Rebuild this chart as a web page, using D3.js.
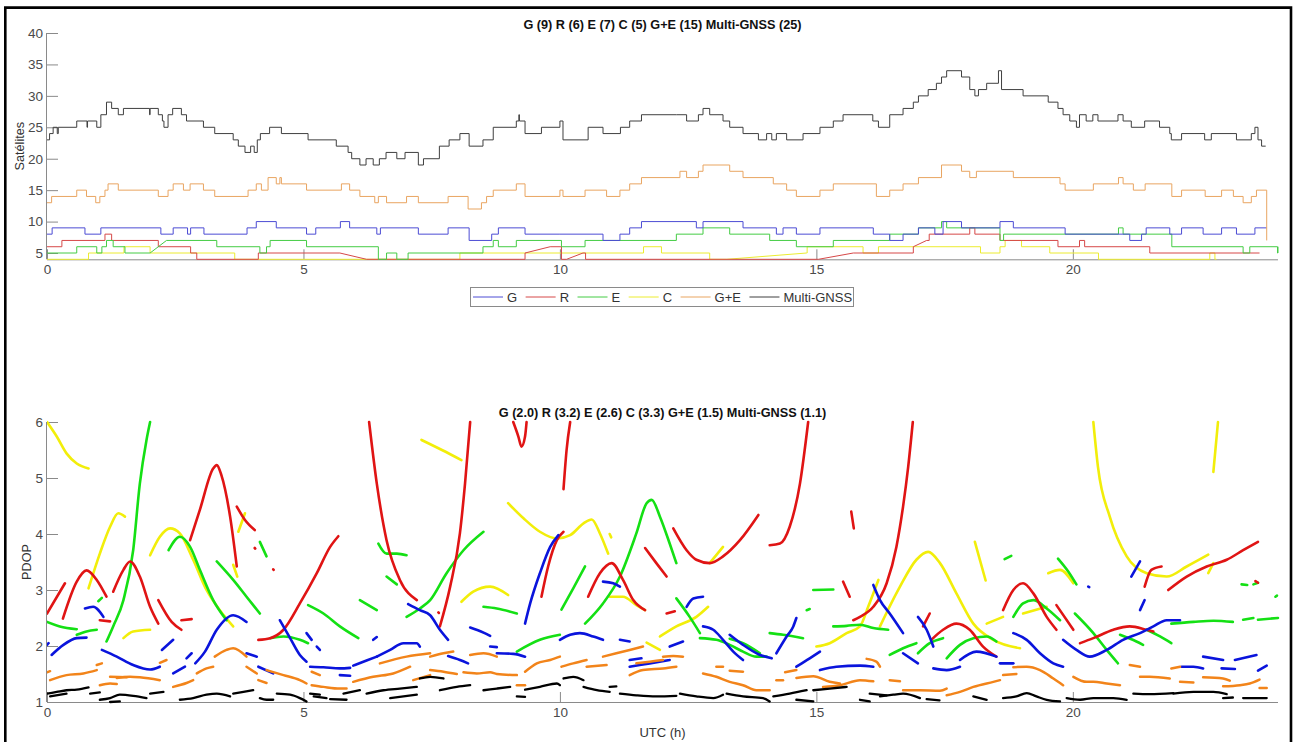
<!DOCTYPE html>
<html>
<head>
<meta charset="utf-8">
<script src="https://cdn.jsdelivr.net/npm/d3@7"></script>
<style>
  html, body { margin: 0; padding: 0; background: #fff; }
  svg { display: block; font-family: "Liberation Sans", Arial, sans-serif; }
</style>
</head>
<body>
<svg id="fig" width="1293" height="742"></svg>
<script>
// ---------- data ----------
const hourTicks = [0, 5, 10, 15, 20];
const satTicks = [5, 10, 15, 20, 25, 30, 35, 40];
const pdopTicks = [1, 2, 3, 4, 5, 6];
const systems = ["G", "R", "E", "C", "G+E", "Multi-GNSS"];
const meanSats = [9, 6, 7, 5, 15, 25];
const meanPdop = ["2.0", "3.2", "2.6", "3.3", "1.5", "1.1"];

// Visible satellites: change points [hour, count]; a third element 1 marks a linear ramp
const satG = [[0,8],[0.1,9],[0.74,8],[1.05,9],[2.22,8],[2.46,9],[2.74,8],[2.80,9],[3.06,8],[3.90,9],[4.08,10],[4.47,9],[5.06,8],[5.24,9],[5.72,10],[5.90,9],[6.43,8],[6.50,9],[7.24,8],[7.82,9],[8.23,7],[8.67,8],[8.80,9],[9.32,8],[10.0,8],[10.84,7],[11.17,8],[11.36,9],[11.59,10],[12.66,9],[12.79,10],[13.57,9],[14.22,8],[14.35,9],[14.61,8],[15.07,9],[16.11,8],[16.43,7],[16.69,8],[16.99,9],[17.31,8],[17.47,10],[17.83,9],[18.58,10],[18.84,9],[19.85,8],[21.11,7],[21.34,8],[21.43,9],[21.89,8],[22.12,9],[22.54,8],[22.90,9],[23.19,8],[23.55,9],[23.78,9]];
const satR = [[0,6],[0.29,7],[1.13,8],[1.26,7],[2.17,6],[2.80,5],[2.92,4],[4.12,5],[5.71,5],[6.23,4,1],[9.22,4],[9.32,5],[9.81,6,1],[10.02,6],[10.03,4],[10.13,4],[10.45,5,1],[10.50,4],[15.04,4],[15.72,5,1],[16.89,5],[16.89,6],[17.15,7,1],[17.20,8],[17.99,9],[18.09,8],[18.58,7],[19.71,6],[20.13,7],[20.23,6],[21.50,5],[23.64,5]];
const satE = [[0,5],[0.58,6],[0.97,5],[1.07,6],[1.16,7],[1.29,6],[1.52,5],[2.01,5],[2.33,7,1],[3.31,6],[4.15,5],[4.28,6],[4.35,7],[5.06,6],[6.46,4],[6.62,5],[6.82,4],[7.04,5],[8.50,6],[8.70,7],[8.80,6],[9.15,7],[10.03,6],[10.49,7],[12.27,8],[12.79,9],[13.31,8],[14.09,7],[14.61,6],[15.33,7],[16.43,8],[16.99,9],[17.44,10],[17.54,9],[18.58,7],[18.65,8],[20.89,9],[20.98,8],[21.93,6],[23.32,5],[23.45,6],[23.98,6],[23.99,5],[24.0,6]];
const satC = [[0,4],[0.81,5],[1.50,6],[2.01,5],[3.66,4],[8.05,5],[11.63,6],[11.98,5],[12.92,4],[13.25,4],[14.81,5,1],[14.82,6],[15.91,5],[16.21,6],[18.20,5],[18.58,6],[18.68,7],[19.0,6],[19.55,5],[20.5,4],[22.67,5],[22.77,4],[22.80,4]];
const satGE = [[0,13],[0.09,14],[0.58,15],[0.77,14],[0.95,13],[1.03,14],[1.13,15],[1.19,16],[1.39,15],[2.17,14],[2.36,15],[2.46,16],[2.66,15],[2.79,16],[3.05,15],[3.27,14],[3.92,15],[4.08,16],[4.18,15],[4.31,17],[4.47,16],[4.54,17],[4.57,16],[5.06,15],[5.74,16],[5.90,15],[6.10,14],[6.39,13],[6.46,14],[6.62,13],[7.01,14],[7.24,13],[7.82,14],[8.21,12],[8.47,13],[8.57,14],[8.70,15],[9.15,16],[9.32,14],[10.0,15],[10.06,14],[10.49,15],[10.91,14],[11.17,15],[11.36,16],[11.59,17],[12.34,18],[12.47,17],[12.70,18],[12.79,19],[13.31,18],[13.57,17],[14.16,16],[14.42,15],[14.61,14],[15.07,15],[15.33,16],[16.17,14],[16.43,15],[16.69,16],[16.99,17],[17.44,19],[17.83,18],[17.99,17],[18.12,18],[18.84,17],[19.75,16],[19.85,15],[20.40,16],[20.89,17],[20.98,16],[21.18,15],[21.41,16],[21.93,14],[22.12,15],[22.58,14],[22.90,15],[23.13,14],[23.32,13],[23.48,14],[23.58,15],[23.78,15],[23.78,7]];
const satMulti = [[0,23],[0.05,24],[0.12,25],[0.2,24],[0.22,25],[0.58,26],[0.78,25],[0.79,26],[0.97,25],[1.05,27],[1.16,29],[1.26,28],[1.39,27],[1.49,28],[2.0,27],[2.01,28],[2.17,27],[2.25,26],[2.28,25],[2.36,27],[2.45,28],[2.62,27],[2.72,26],[3.05,25],[3.27,24],[3.63,23],[3.73,22],[3.86,21],[3.97,22],[4.04,21],[4.10,23],[4.16,24],[4.34,25],[4.57,24],[5.09,23],[5.64,22],[5.87,21],[5.94,20],[6.10,19],[6.22,20],[6.36,19],[6.48,20],[6.61,21],[6.82,20],[6.98,21],[7.24,19],[7.34,20],[7.65,22],[7.84,23],[8.05,24],[8.23,22],[8.50,23],[8.70,25],[9.15,26],[9.2,27],[9.21,26],[9.32,24],[9.64,25],[10.0,26],[10.06,23],[10.55,25],[10.84,24],[11.18,25],[11.36,26],[11.59,27],[12.27,27],[12.47,26],[12.70,27],[12.79,28],[12.92,27],[13.18,26],[13.31,25],[13.57,24],[13.87,23],[14.03,24],[14.13,23],[14.22,24],[14.42,23],[14.74,24],[15.07,25],[15.33,26],[15.52,27],[16.10,26],[16.21,25],[16.43,27],[16.69,28],[16.89,29],[16.99,30],[17.18,31],[17.34,32],[17.44,33],[17.54,34],[17.83,33],[17.99,31],[18.09,30],[18.16,31],[18.32,32],[18.55,34],[18.61,31],[19.03,30],[19.52,29],[19.71,28],[19.81,27],[19.94,26],[20.07,25],[20.13,27],[20.26,26],[20.39,27],[20.49,26],[20.88,27],[20.98,26],[21.14,25],[21.40,26],[21.69,25],[21.89,24],[21.92,23],[22.12,24],[22.57,23],[22.70,24],[23.19,23],[23.48,24],[23.55,25],[23.61,23],[23.68,22],[23.76,22]];

// PDOP arcs per system: each arc is a list of [hour, PDOP]
const pdopG = [
  [[0,2.02],[0.03,2.05]],
  [[0.09,1.84],[0.32,2.02],[0.58,2.14],[0.77,2.15]],
  [[0.74,2.67],[0.90,2.70],[1.10,2.52]],
  [[1.07,1.93],[1.36,1.81],[1.68,1.66],[2.01,1.58],[2.20,1.63]],
  [[2.24,1.93],[2.46,2.11]],
  [[2.46,1.51],[2.69,1.63]],
  [[2.72,1.78],[2.82,1.87]],
  [[2.89,1.69],[3.08,1.90],[3.31,2.29],[3.63,2.55],[3.89,2.43]],
  [[3.89,1.87],[4.09,1.81]],
  [[4.12,1.63],[4.41,1.51]],
  [[4.54,2.46],[4.74,2.14],[4.93,1.84],[5.06,1.72]],
  [[5.06,2.23],[5.16,2.11]],
  [[5.26,1.99],[5.32,1.93]],
  [[5.13,1.63],[5.39,1.62],[5.71,1.60],[5.91,1.61]],
  [[5.71,1.48],[5.91,1.47]],
  [[5.97,1.65],[6.23,1.74],[6.43,1.81]],
  [[6.36,2.11],[6.43,2.16]],
  [[6.43,1.81],[6.69,1.93],[6.95,2.05],[7.21,2.05],[7.27,1.99]],
  [[7.04,2.75],[7.27,2.64],[7.47,2.55],[7.66,2.29],[7.82,2.11]],
  [[7.82,1.82],[8.05,1.75],[8.21,1.69]],
  [[8.25,2.33],[8.51,2.24],[8.64,2.18]],
  [[8.64,1.99],[8.77,1.98]],
  [[8.77,1.87],[9.09,1.86],[9.32,1.81]],
  [[9.32,2.40],[9.42,2.76],[9.61,3.30],[9.81,3.77],[9.97,3.98]],
  [[10.0,2.11],[10.2,2.20],[10.39,2.23],[10.65,2.17],[10.84,2.11]],
  [[10.84,3.15],[11.04,3.12],[11.17,3.06]],
  [[11.17,2.11],[11.36,2.08]],
  [[11.36,1.75],[11.59,1.78]],
  [[11.36,1.63],[11.75,1.69],[12.14,1.75]],
  [[12.14,1.99],[12.40,2.08]],
  [[12.47,2.70],[12.60,2.85],[12.79,2.88]],
  [[12.79,2.35],[12.99,2.29],[13.18,2.11],[13.38,1.90],[13.57,1.75]],
  [[13.31,2.20],[13.57,2.02],[13.90,1.84],[14.13,1.78]],
  [[14.22,1.87],[14.42,2.17],[14.55,2.35],[14.61,2.50]],
  [[14.61,1.63],[14.87,1.78],[15.07,1.90]],
  [[15.07,1.57],[15.39,1.63],[15.85,1.65],[16.11,1.63]],
  [[16.11,3.09],[16.24,2.82],[16.43,2.58],[16.69,2.23]],
  [[16.69,1.87],[16.98,1.69]],
  [[16.98,2.52],[17.15,2.29],[17.28,1.99]],
  [[17.28,1.60],[17.54,1.57],[17.80,1.63]],
  [[17.80,1.75],[18.12,1.90],[18.51,1.81]],
  [[18.58,1.69],[18.84,1.69]],
  [[18.84,2.23],[19.10,2.11],[19.36,1.87],[19.62,1.69],[19.81,1.63]],
  [[19.81,2.11],[20.07,1.93],[20.33,1.81],[20.66,1.93],[20.98,2.11],[21.31,2.23],[21.57,2.35],[21.83,2.46],[22.09,2.46]],
  [[20.30,3.06],[20.32,3.05]],
  [[21.14,3.24],[21.31,3.51]],
  [[21.31,2.64],[21.40,2.82]],
  [[22.12,1.63],[22.35,1.63],[22.54,1.60]],
  [[22.54,1.81],[22.93,1.75]],
  [[22.90,1.60],[23.16,1.59]],
  [[23.16,1.75],[23.58,1.84]],
  [[23.61,1.56],[23.78,1.65]]
];
const pdopR = [
  [[0,2.58],[0.35,3.12]],
  [[0.31,2.49],[0.58,3.15],[0.77,3.35],[0.97,3.18],[1.16,2.88]],
  [[1.03,2.46],[1.23,2.44]],
  [[1.29,2.97],[1.49,3.36],[1.62,3.51],[1.81,3.24],[2.01,2.70],[2.17,2.40]],
  [[2.17,2.82],[2.43,2.43],[2.62,2.29]],
  [[2.62,2.46],[2.82,2.48]],
  [[2.79,3.89],[2.98,4.43],[3.24,5.17],[3.31,5.23],[3.40,5.05],[3.57,4.31],[3.70,3.42]],
  [[3.70,4.49],[3.86,4.25],[4.05,4.07]],
  [[4.12,2.11],[4.35,2.14],[4.61,2.29],[4.93,2.76],[5.26,3.30],[5.52,3.77],[5.68,3.96]],
  [[4.05,3.75],[4.06,3.74]],
  [[4.41,3.37],[4.42,3.36]],
  [[6.28,6],[6.43,4.90],[6.62,3.89],[6.88,3.18],[7.21,2.82]],
  [[7.63,2.6],[7.64,2.59]],
  [[7.66,2.35],[7.86,3.06],[8.05,4.01],[8.15,4.90],[8.25,6]],
  [[9.09,6],[9.19,5.74],[9.25,5.56],[9.32,5.74],[9.35,6]],
  [[9.64,2.88],[9.77,3.42],[9.94,3.89],[10.07,4.04]],
  [[10.07,4.8],[10.13,5.5],[10.2,6]],
  [[10.55,2.88],[10.78,3.30],[11.01,3.48],[11.23,3.18],[11.43,2.82],[11.66,2.64]],
  [[11.66,3.75],[11.88,3.48],[12.08,3.24]],
  [[12.08,2.58],[12.24,2.62]],
  [[12.21,4.10],[12.47,3.71],[12.66,3.54],[12.92,3.48],[13.18,3.60],[13.51,3.89],[13.87,4.34]],
  [[14.09,3.80],[14.29,3.83],[14.48,4.13],[14.68,4.90],[14.84,6]],
  [[15.52,3.15],[15.65,2.88]],
  [[15.68,4.40],[15.73,4.10]],
  [[15.72,2.46],[15.85,2.52],[16.11,2.70],[16.37,3.12],[16.56,3.77],[16.69,4.49],[16.79,5.20],[16.88,6]],
  [[17.08,2.35],[17.21,2.58]],
  [[17.24,2.11],[17.47,2.29],[17.73,2.40],[17.99,2.29],[18.25,1.99],[18.51,1.81]],
  [[18.64,2.64],[18.84,3.0],[19.03,3.12],[19.23,2.94],[19.49,2.52],[19.68,2.29]],
  [[19.68,2.73],[20.01,2.29]],
  [[20.14,2.05],[20.40,2.14],[20.79,2.29],[21.11,2.35],[21.44,2.29],[21.57,2.26]],
  [[21.40,3.06],[21.53,3.36],[21.73,3.42]],
  [[21.86,3.0],[22.22,3.24],[22.61,3.42],[23.0,3.54],[23.32,3.71],[23.61,3.86]],
  [[23.56,3.16],[23.61,3.13]]
];
const pdopE = [
  [[0,2.43],[0.25,2.35],[0.58,2.30]],
  [[0.58,2.20],[0.77,2.26],[0.97,2.29]],
  [[1.0,2.8],[1.07,2.86]],
  [[1.16,2.08],[1.29,2.35],[1.49,2.82],[1.68,3.71],[1.81,4.90],[1.94,5.68],[2.01,6]],
  [[2.37,3.71],[2.59,3.95],[2.79,3.77],[2.98,3.36],[3.24,2.82],[3.50,2.46]],
  [[3.31,3.51],[3.63,3.18],[3.89,2.88],[4.15,2.58]],
  [[4.15,3.86],[4.28,3.60]],
  [[4.35,2.14],[4.61,2.17],[4.93,2.11],[5.09,2.05]],
  [[5.09,2.73],[5.39,2.58],[5.71,2.35],[6.07,2.14]],
  [[6.10,2.82],[6.43,2.64]],
  [[6.46,3.83],[6.62,3.65],[6.82,3.65],[7.01,3.62]],
  [[6.62,3.24],[6.82,3.10]],
  [[7.01,2.52],[7.27,2.67],[7.47,2.82],[7.79,3.30],[8.12,3.71],[8.51,4.04]],
  [[8.51,2.70],[8.77,2.67],[9.16,2.58]],
  [[9.16,1.90],[9.61,2.11],[10.0,2.20]],
  [[10.03,2.65],[10.26,3.03],[10.49,3.42]],
  [[10.49,2.40],[10.84,2.76],[11.17,3.24],[11.49,4.01],[11.69,4.55],[11.79,4.61],[11.95,4.31],[12.14,3.83],[12.27,3.48]],
  [[12.27,2.85],[12.53,2.52],[12.73,2.23]],
  [[12.73,2.14],[13.05,2.11],[13.31,2.02],[13.57,1.90],[13.83,1.81],[14.03,1.81]],
  [[13.31,2.13],[13.57,2.05],[13.90,1.87]],
  [[14.09,2.23],[14.35,2.20],[14.74,2.14]],
  [[14.81,2.64],[14.87,2.66]],
  [[14.94,3.0],[15.33,3.01]],
  [[15.33,2.35],[15.59,2.36],[15.85,2.38],[16.11,2.32],[16.40,2.29]],
  [[16.43,1.84],[16.69,1.96],[16.95,2.05]],
  [[16.98,1.87],[17.21,2.05],[17.47,2.14]],
  [[17.54,1.78],[17.80,2.02],[18.06,2.14],[18.32,2.17],[18.51,2.08]],
  [[18.67,3.55],[18.80,3.61]],
  [[18.84,2.52],[19.03,2.76],[19.23,2.82],[19.49,2.67],[19.75,2.46]],
  [[19.71,3.56],[19.91,3.33],[20.07,3.10]],
  [[20.04,2.58],[20.40,2.23],[20.66,1.93],[20.88,1.69]],
  [[20.92,2.20],[21.24,2.08],[21.37,2.02]],
  [[21.44,2.29],[21.70,2.17],[21.92,2.05]],
  [[21.92,2.40],[22.35,2.43],[22.74,2.45],[23.12,2.43]],
  [[23.32,2.47],[23.52,2.50]],
  [[23.61,2.47],[24.0,2.50]],
  [[23.29,3.10],[23.40,3.09]],
  [[23.52,3.10],[23.61,3.13]],
  [[23.95,2.88],[23.98,2.90]]
];
const pdopC = [
  [[0,6],[0.19,5.74],[0.38,5.44],[0.58,5.26],[0.81,5.17]],
  [[0.81,3.03],[1.03,3.65],[1.23,4.13],[1.39,4.37],[1.52,4.31]],
  [[1.49,2.14],[1.68,2.26],[2.01,2.29]],
  [[2.01,3.62],[2.20,3.95],[2.40,4.10],[2.59,4.01],[2.85,3.54],[3.11,3.0],[3.37,2.64],[3.63,2.35]],
  [[3.63,3.45],[3.71,3.24]],
  [[3.73,4.04],[3.86,4.37]],
  [[7.30,5.68],[7.70,5.50],[8.08,5.32]],
  [[8.08,2.79],[8.31,2.97],[8.64,3.06],[8.99,2.91]],
  [[8.99,4.55],[9.29,4.28],[9.61,4.04],[9.94,3.92],[10.2,3.98],[10.46,4.19],[10.62,4.26],[10.78,4.01],[10.94,3.65]],
  [[10.97,4.0],[11.0,3.94]],
  [[10.97,2.88],[11.23,2.88],[11.49,2.73],[11.66,2.64]],
  [[11.69,2.06],[11.95,1.93]],
  [[11.95,2.17],[12.27,2.35],[12.66,2.52],[12.89,2.70]],
  [[12.92,3.48],[13.18,3.77]],
  [[15.0,1.99],[15.26,2.05],[15.59,2.23],[15.85,2.35],[16.01,2.70],[16.21,3.18]],
  [[16.24,2.35],[16.63,3.06],[16.95,3.54],[17.18,3.68],[17.41,3.48],[17.73,2.94],[18.06,2.40],[18.45,2.11],[18.97,1.96]],
  [[18.09,3.86],[18.30,3.17]],
  [[18.32,2.40],[18.64,2.52]],
  [[19.03,2.58],[19.49,2.70]],
  [[19.52,3.30],[19.75,3.36],[20.01,3.12]],
  [[20.40,6],[20.49,5.2],[20.72,4.31],[21.05,3.6],[21.44,3.30],[21.83,3.24],[22.22,3.42],[22.64,3.63]],
  [[22.64,3.30],[22.74,3.48]],
  [[22.74,5.11],[22.83,6]]
];
const pdopGE = [
  [[0,1.53],[0.06,1.55]],
  [[0.06,1.39],[0.38,1.48],[0.71,1.51],[0.97,1.57]],
  [[0.97,1.66],[1.07,1.69]],
  [[1.03,1.30],[1.23,1.33],[1.36,1.32]],
  [[1.23,1.45],[1.55,1.44]],
  [[1.36,1.43],[1.62,1.45],[1.81,1.44],[2.20,1.39]],
  [[2.20,1.70],[2.33,1.75]],
  [[2.46,1.27],[2.72,1.34],[2.85,1.39]],
  [[2.92,1.51],[3.11,1.60],[3.24,1.63]],
  [[3.27,1.81],[3.50,1.93],[3.63,1.96],[3.89,1.81]],
  [[3.89,1.63],[4.09,1.51]],
  [[4.12,1.39],[4.28,1.34]],
  [[4.28,1.57],[4.61,1.48],[4.93,1.39],[5.06,1.33]],
  [[5.16,1.30],[5.39,1.27],[5.71,1.24],[5.84,1.24]],
  [[5.16,1.54],[5.32,1.48]],
  [[5.97,1.36],[6.36,1.45],[6.75,1.51],[7.08,1.63]],
  [[6.49,1.69],[7.01,1.81],[7.47,1.87]],
  [[7.14,1.39],[7.47,1.48]],
  [[7.47,1.81],[7.73,1.87],[7.92,1.90]],
  [[7.47,1.57],[7.73,1.54],[7.99,1.50]],
  [[8.25,1.84],[8.51,1.87],[8.77,1.81]],
  [[8.12,1.53],[8.38,1.51],[8.64,1.53],[8.77,1.50],[9.16,1.48]],
  [[9.16,1.30],[9.32,1.30]],
  [[9.32,1.54],[9.55,1.69],[9.81,1.75],[10.0,1.81]],
  [[10.03,1.63],[10.26,1.69],[10.52,1.75]],
  [[10.52,1.63],[10.91,1.66]],
  [[10.84,1.81],[11.10,1.87],[11.36,1.93],[11.62,1.99]],
  [[11.36,1.48],[11.62,1.57],[12.01,1.60],[12.27,1.63]],
  [[11.49,1.69],[11.75,1.72],[12.01,1.75]],
  [[12.01,1.81],[12.21,1.82],[12.40,1.81]],
  [[12.79,1.51],[13.05,1.45],[13.31,1.36],[13.57,1.30],[13.83,1.21],[14.09,1.21]],
  [[13.05,1.63],[13.18,1.63]],
  [[13.31,1.56],[13.57,1.54]],
  [[14.22,1.39],[14.35,1.39]],
  [[14.39,1.53],[14.61,1.57]],
  [[14.61,1.43],[14.94,1.46],[15.26,1.36],[15.46,1.33]],
  [[15.13,1.27],[15.46,1.30],[15.85,1.39],[16.11,1.37]],
  [[15.98,1.77],[16.17,1.72],[16.24,1.63]],
  [[16.43,1.39],[16.63,1.37]],
  [[16.69,1.21],[17.02,1.21],[17.41,1.20],[17.54,1.24]],
  [[17.54,1.12],[17.80,1.18],[18.06,1.27],[18.45,1.36],[18.58,1.39]],
  [[18.64,1.48],[18.90,1.50]],
  [[18.84,1.62],[19.10,1.63],[19.36,1.57],[19.62,1.42],[19.81,1.30]],
  [[20.01,1.45],[20.27,1.36],[20.40,1.36],[20.66,1.33],[20.92,1.30]],
  [[21.11,1.66],[21.31,1.63]],
  [[21.31,1.45],[21.50,1.45],[21.89,1.42]],
  [[21.92,1.60],[22.09,1.63]],
  [[22.09,1.36],[22.35,1.35]],
  [[22.54,1.44],[22.93,1.42],[23.06,1.38]],
  [[22.93,1.28],[23.26,1.30],[23.45,1.33],[23.64,1.40]],
  [[23.64,1.25],[23.78,1.25]]
];
const pdopMulti = [
  [[0,1.15],[0.19,1.18],[0.38,1.21],[0.58,1.22],[0.81,1.26]],
  [[0.06,1.10],[0.38,1.15]],
  [[0.84,1.15],[1.03,1.17]],
  [[1.03,1.04],[1.23,1.07],[1.42,1.13],[1.68,1.11],[1.94,1.07]],
  [[1.23,1.0],[1.42,1.01]],
  [[2.01,1.15],[2.27,1.18]],
  [[2.59,1.04],[2.85,1.07],[3.11,1.13],[3.31,1.15],[3.57,1.10]],
  [[3.63,1.15],[3.83,1.18],[4.02,1.21]],
  [[4.15,1.07],[4.28,1.04],[4.41,1.04]],
  [[4.48,1.15],[4.74,1.13],[4.93,1.07],[5.06,1.01]],
  [[5.13,1.15],[5.32,1.13]],
  [[5.20,1.10],[5.45,1.07]],
  [[5.52,1.05],[5.84,1.04]],
  [[5.78,1.15],[6.10,1.21]],
  [[6.23,1.15],[6.56,1.21],[6.88,1.24],[7.21,1.27]],
  [[6.69,1.07],[7.21,1.13]],
  [[7.27,1.42],[7.47,1.45],[7.73,1.42]],
  [[7.66,1.21],[7.99,1.27],[8.25,1.30]],
  [[8.51,1.21],[8.77,1.24],[9.03,1.27]],
  [[9.16,1.10],[9.32,1.09]],
  [[9.32,1.22],[9.61,1.27],[9.94,1.33],[10.0,1.30]],
  [[10.07,1.42],[10.26,1.45],[10.46,1.39]],
  [[10.46,1.27],[10.72,1.21],[10.97,1.18]],
  [[10.97,1.27],[11.10,1.28]],
  [[11.17,1.15],[11.49,1.12],[11.88,1.10],[12.27,1.11]],
  [[12.34,1.15],[12.66,1.10],[12.99,1.07],[13.18,1.13]],
  [[13.25,1.15],[13.57,1.10],[13.96,1.07],[14.09,1.01]],
  [[14.16,1.10],[14.48,1.15],[14.81,1.21]],
  [[14.61,1.04],[14.94,1.01]],
  [[14.94,1.21],[15.26,1.24],[15.59,1.27]],
  [[15.85,1.04],[16.04,1.01]],
  [[16.04,1.15],[16.37,1.12]],
  [[16.24,1.10],[16.50,1.13],[16.69,1.15],[17.02,1.07]],
  [[17.15,1.05],[17.40,1.03]],
  [[18.06,1.10],[18.32,1.04]],
  [[18.64,1.07],[18.90,1.10],[19.10,1.16],[19.29,1.10],[19.49,1.04],[19.75,1.01]],
  [[19.88,1.07],[20.14,1.04],[20.40,1.07],[20.79,1.07],[21.05,1.04]],
  [[21.18,1.15],[21.50,1.14],[21.96,1.16]],
  [[21.96,1.15],[22.35,1.18],[22.74,1.18],[23.0,1.14]],
  [[22.93,1.07],[23.12,1.08]],
  [[23.32,1.07],[23.78,1.07]]
];

// ---------- styles ----------
const satColors = ["#4c4cd4", "#d64848", "#44cc44", "#ecec30", "#e9a561", "#3f3f3f"];
const pdopColors = ["#0a14dc", "#e01414", "#14e014", "#f2ee0a", "#f2841a", "#000000"];
const pdopWidths = [2.6, 2.6, 2.6, 2.6, 2.5, 2.3];
const font = '"Liberation Sans", Arial, sans-serif';
const axisGray = "#8a8a8a";
const labelGray = "#4a4a4a";

const svg = d3.select("#fig");
svg.append("rect").attr("x", 0).attr("y", 0).attr("width", 1293).attr("height", 742).attr("fill", "#fff");

const x = d3.scaleLinear().domain([0, 24]).range([47, 1278]);
const ySat = d3.scaleLinear().domain([4, 40]).range([259.3, 33]);
const yPdop = d3.scaleLinear().domain([1, 6]).range([702, 422]);

function styleAxis(g) {
  g.select(".domain").attr("stroke", axisGray).attr("stroke-width", 1);
  g.selectAll(".tick line").attr("stroke", axisGray);
  g.selectAll(".tick text").attr("fill", labelGray).attr("font-size", 13.5).attr("font-family", font);
}

function drawAxes(yScale, yTicks, top, bottom, ylab, ylabX) {
  const gx = svg.append("g").attr("transform", `translate(0,${bottom})`)
    .call(d3.axisBottom(x).tickValues(hourTicks).tickSizeInner(-10).tickSizeOuter(0).tickPadding(5).tickFormat(d3.format("d")));
  styleAxis(gx);
  gx.select(".domain").attr("d", `M${x(0)},0.5H${x(24)}`);
  const gy = svg.append("g").attr("transform", `translate(${x(0)},0)`)
    .call(d3.axisLeft(yScale).tickValues(yTicks).tickSizeInner(-11).tickSizeOuter(0).tickPadding(4).tickFormat(d3.format("d")));
  styleAxis(gy);
  gy.select(".domain").attr("d", `M-0.5,${top}V${bottom}`);
  svg.append("text").attr("transform", `translate(${ylabX},${(top + bottom) / 2}) rotate(-90)`)
    .attr("text-anchor", "middle").attr("dominant-baseline", "central")
    .attr("font-family", font).attr("font-size", 12.7).attr("fill", "#333").text(ylab);
}

// ---------- top panel: visible satellites ----------
function stepPath(changes) {
  const pts = [];
  changes.forEach((c, i) => {
    if (i === 0) { pts.push([c[0], c[1]]); return; }
    const prev = pts[pts.length - 1];
    if (c[2]) pts.push([c[0], c[1]]);
    else { pts.push([c[0], prev[1]]); pts.push([c[0], c[1]]); }
  });
  return pts;
}

drawAxes(ySat, satTicks, 33, 259.3, "Satélites", 20);

const satLine = d3.line().x(d => x(d[0])).y(d => ySat(d[1])).curve(d3.curveLinear);
const satSeries = [satG, satR, satE, satC, satGE, satMulti];
const topLayer = svg.append("g");
// low-count systems first so the combined ones sit on top
[3, 1, 2, 0, 4, 5].forEach(i => {
  topLayer.append("path").attr("d", satLine(stepPath(satSeries[i])))
    .attr("fill", "none").attr("stroke", satColors[i]).attr("stroke-width", 1)
    .attr("stroke-linejoin", "miter");
});

svg.append("text").attr("x", (x(0) + x(24)) / 2).attr("y", 25)
  .attr("text-anchor", "middle").attr("dominant-baseline", "central")
  .attr("font-family", font).attr("font-weight", "bold").attr("font-size", 12.7).attr("fill", "#111")
  .text(systems.map((s, i) => `${s} (${meanSats[i]})`).join(" "));

// legend
const leg = svg.append("g");
leg.append("rect").attr("x", 470.5).attr("y", 287.5).attr("width", 383).attr("height", 19)
  .attr("fill", "#fff").attr("stroke", "#8a8a8a").attr("stroke-width", 1);
let cx = 473;
systems.forEach((s, i) => {
  leg.append("line").attr("x1", cx).attr("x2", cx + 30).attr("y1", 297).attr("y2", 297)
    .attr("stroke", satColors[i]).attr("stroke-width", 1);
  const t = leg.append("text").attr("x", cx + 34).attr("y", 297).attr("dominant-baseline", "central")
    .attr("font-family", font).attr("font-size", 13).attr("fill", "#333").text(s);
  cx += 34 + t.node().getComputedTextLength() + 8.5;
});

// ---------- bottom panel: PDOP ----------
drawAxes(yPdop, pdopTicks, 422, 702, "PDOP", 27);

svg.append("defs").append("clipPath").attr("id", "pdopClip")
  .append("rect").attr("x", x(0)).attr("y", 420).attr("width", x(24) - x(0) + 2).attr("height", 284);

const pdopLine = d3.line().x(d => x(d[0])).y(d => yPdop(d[1])).curve(d3.curveMonotoneX);
const pdopSeries = [pdopG, pdopR, pdopE, pdopC, pdopGE, pdopMulti];
const botLayer = svg.append("g").attr("clip-path", "url(#pdopClip)");
[3, 2, 1, 0, 4, 5].forEach(i => {
  botLayer.append("g").selectAll("path").data(pdopSeries[i]).join("path")
    .attr("d", pdopLine)
    .attr("fill", "none").attr("stroke", pdopColors[i]).attr("stroke-width", pdopWidths[i])
    .attr("stroke-linecap", "round").attr("stroke-linejoin", "round");
});

svg.append("text").attr("x", (x(0) + x(24)) / 2).attr("y", 413)
  .attr("text-anchor", "middle").attr("dominant-baseline", "central")
  .attr("font-family", font).attr("font-weight", "bold").attr("font-size", 12.7).attr("fill", "#111")
  .text(systems.map((s, i) => `${s} (${meanPdop[i]})`).join(" "));

svg.append("text").attr("x", (x(0) + x(24)) / 2).attr("y", 732)
  .attr("text-anchor", "middle").attr("dominant-baseline", "central")
  .attr("font-family", font).attr("font-size", 13).attr("fill", "#333").text("UTC (h)");

// figure frame
svg.append("path").attr("d", "M5.3,745V7.6H1291V745")
  .attr("fill", "none").attr("stroke", "#000").attr("stroke-width", 2.6);
</script>
</body>
</html>
